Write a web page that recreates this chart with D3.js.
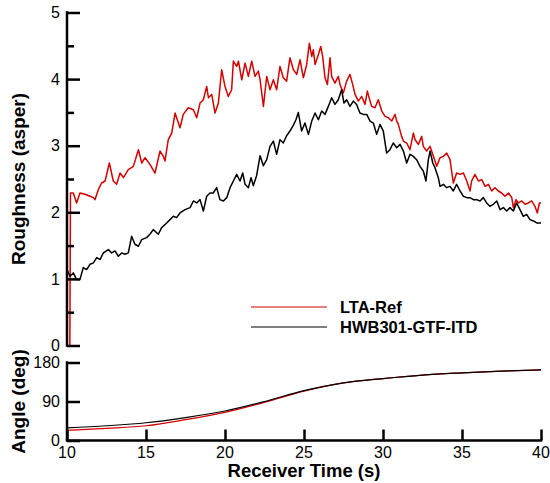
<!DOCTYPE html>
<html>
<head>
<meta charset="utf-8">
<script src="https://cdn.jsdelivr.net/npm/d3@7"></script>
<style>
  body { margin: 0; background: #fff; }
  svg { display: block; font-family: "Liberation Sans", Arial, sans-serif; }
</style>
</head>
<body>
<div id="graph"></div>
<script>
/*******************************************************************************
* Data
*******************************************************************************/
var seriesNames = ["LTA-Ref", "HWB301-GTF-ITD"];
var seriesColors = ["#d40000", "#000000"];

// roughness, LTA-Ref  [time (s), asper]
var roughRef = [
  [10.18,0.00],[10.22,2.29],[10.40,2.29],[10.61,2.14],[10.82,2.29],[11.14,2.27],[11.46,2.24],
  [11.67,2.22],[11.77,2.19],[11.98,2.34],[12.19,2.44],[12.41,2.47],[12.68,2.74],[12.93,2.47],
  [13.14,2.42],[13.36,2.59],[13.57,2.52],[13.88,2.64],[14.20,2.69],[14.52,2.94],[14.73,2.74],
  [14.94,2.82],[15.25,2.72],[15.57,2.59],[15.89,2.92],[16.10,2.84],[16.20,2.77],[16.41,3.09],
  [16.63,3.19],[16.84,3.49],[17.15,3.27],[17.36,3.47],[17.68,3.57],[18.00,3.54],[18.21,3.42],
  [18.42,3.64],[18.63,3.69],[18.84,3.89],[18.95,3.72],[19.16,3.77],[19.37,3.49],[19.58,3.64],
  [19.79,4.14],[20.00,3.89],[20.21,3.74],[20.42,3.84],[20.53,4.27],[20.74,4.19],[20.85,4.27],
  [21.06,3.99],[21.27,4.24],[21.48,4.04],[21.69,4.27],[21.90,4.04],[22.11,4.12],[22.22,3.99],
  [22.43,3.59],[22.64,4.04],[22.85,3.84],[23.06,3.99],[23.27,3.84],[23.48,4.19],[23.69,4.02],
  [23.90,3.97],[24.11,4.32],[24.33,4.14],[24.54,4.07],[24.75,4.29],[24.96,4.02],[25.17,4.22],
  [25.34,4.54],[25.49,4.34],[25.59,4.44],[25.70,4.22],[25.91,4.37],[26.06,4.49],[26.18,4.34],
  [26.33,4.02],[26.48,3.92],[26.65,4.32],[26.75,4.04],[26.96,3.94],[27.17,4.04],[27.28,3.92],
  [27.49,3.79],[27.70,3.97],[27.91,4.07],[28.08,3.92],[28.23,3.77],[28.44,3.67],[28.65,3.74],
  [28.86,3.62],[29.01,3.82],[29.18,3.67],[29.28,3.59],[29.49,3.57],[29.70,3.69],[29.92,3.52],
  [30.13,3.44],[30.34,3.42],[30.55,3.37],[30.76,3.47],[30.87,3.37],[30.97,3.32],[31.18,3.14],
  [31.29,3.07],[31.50,3.04],[31.71,2.94],[31.92,3.19],[32.03,3.09],[32.24,3.02],[32.45,3.14],
  [32.55,2.99],[32.76,2.92],[32.98,2.99],[33.19,2.84],[33.40,2.69],[33.61,2.82],[33.82,2.84],
  [34.03,2.89],[34.24,2.79],[34.45,2.44],[34.66,2.59],[34.88,2.57],[35.09,2.59],[35.30,2.47],
  [35.51,2.32],[35.61,2.47],[35.82,2.57],[36.04,2.47],[36.25,2.49],[36.46,2.39],[36.67,2.42],
  [36.88,2.32],[37.09,2.37],[37.30,2.32],[37.51,2.29],[37.72,2.24],[37.94,2.29],[38.15,2.22],
  [38.25,2.07],[38.42,2.19],[38.57,2.14],[38.78,2.17],[38.99,2.12],[39.20,2.14],[39.41,2.17],
  [39.62,2.09],[39.77,1.99],[39.90,2.14],[40.00,2.14]
];

// roughness, HWB301-GTF-ITD  [time (s), asper]
var roughItd = [
  [10.00,1.14],[10.19,1.04],[10.40,1.09],[10.61,0.99],[10.82,0.99],[11.03,1.17],[11.24,1.14],
  [11.46,1.22],[11.67,1.24],[11.88,1.32],[12.09,1.29],[12.30,1.39],[12.62,1.44],[12.83,1.39],
  [13.04,1.42],[13.25,1.34],[13.46,1.39],[13.67,1.37],[13.88,1.39],[14.09,1.64],[14.30,1.52],
  [14.52,1.49],[14.73,1.59],[15.04,1.62],[15.25,1.67],[15.46,1.74],[15.78,1.67],[15.99,1.77],
  [16.31,1.84],[16.52,1.89],[16.73,1.94],[16.94,1.92],[17.15,1.99],[17.47,2.04],[17.79,2.07],
  [18.00,2.17],[18.21,2.14],[18.42,2.19],[18.63,2.02],[18.84,2.24],[19.05,2.29],[19.26,2.29],
  [19.47,2.37],[19.68,2.19],[19.90,2.17],[20.11,2.22],[20.32,2.37],[20.53,2.47],[20.74,2.57],
  [20.95,2.47],[21.12,2.59],[21.27,2.42],[21.48,2.37],[21.65,2.52],[21.79,2.40],[22.00,2.55],
  [22.22,2.85],[22.43,2.70],[22.64,2.79],[22.85,2.99],[23.06,3.07],[23.27,2.87],[23.48,3.09],
  [23.69,3.04],[23.90,3.15],[24.11,3.22],[24.33,3.31],[24.49,3.39],[24.64,3.50],[24.85,3.22],
  [25.06,3.34],[25.28,3.17],[25.49,3.37],[25.70,3.49],[25.91,3.39],[26.12,3.52],[26.33,3.47],
  [26.54,3.59],[26.75,3.72],[26.96,3.62],[27.17,3.69],[27.38,3.84],[27.53,3.64],[27.70,3.69],
  [27.91,3.59],[28.12,3.67],[28.33,3.62],[28.54,3.49],[28.76,3.47],[28.97,3.47],[29.18,3.37],
  [29.39,3.34],[29.60,3.17],[29.81,3.32],[30.02,3.22],[30.23,2.89],[30.44,2.94],[30.65,3.04],
  [30.87,2.97],[31.08,3.02],[31.29,2.92],[31.50,2.74],[31.71,2.87],[31.92,2.84],[32.13,2.79],
  [32.34,2.69],[32.55,2.62],[32.72,2.47],[32.87,2.79],[32.98,2.92],[33.15,2.74],[33.29,2.67],
  [33.50,2.52],[33.61,2.39],[33.82,2.42],[34.03,2.37],[34.24,2.39],[34.45,2.32],[34.66,2.42],
  [34.88,2.32],[35.09,2.24],[35.30,2.22],[35.51,2.22],[35.72,2.19],[35.93,2.19],[36.14,2.17],
  [36.35,2.22],[36.56,2.14],[36.77,2.09],[36.98,2.12],[37.20,2.17],[37.41,2.04],[37.62,2.07],
  [37.83,2.02],[38.04,2.07],[38.25,2.02],[38.46,2.14],[38.67,2.04],[38.88,1.94],[39.09,1.97],
  [39.30,1.89],[39.52,1.87],[39.73,1.84],[40.00,1.84]
];

// angle (deg)
var angleTimes = [10, 12.5, 15, 17.5, 20, 22.5, 25, 27.5, 30, 32.5, 35, 37.5, 40];
var angleRef   = [23.5, 28, 34, 48, 65, 88, 114, 133, 143, 151, 156, 160, 163];
var angleItd   = [29, 34, 41, 53, 68, 90, 115, 133, 143, 151, 156, 160, 163];

var xTicks = [10, 15, 20, 25, 30, 35, 40];
var roughTicks = [0, 1, 2, 3, 4, 5];
var roughMinor = [0.5, 1.5, 2.5, 3.5, 4.5];
var angleTicks = [0, 90, 180];

/*******************************************************************************
* Svg Container + scales
*******************************************************************************/
var svg = d3.select("#graph").append("svg")
  .attr("width", 550)
  .attr("height", 483);

var x = d3.scaleLinear().domain([10, 40]).range([67, 541]);
var yR = d3.scaleLinear().domain([0, 5]).range([345.5, 12.5]);
var yA = d3.scaleLinear().domain([0, 180]).range([440.5, 362.5]);

var axisW = 2.5;

/*******************************************************************************
* Roughness panel
*******************************************************************************/
var roughLine = d3.line()
  .x(function(d){ return x(d[0]); })
  .y(function(d){ return yR(d[1]); });

[roughRef, roughItd].forEach(function(s, i){
  svg.append("path")
    .datum(s)
    .attr("d", roughLine)
    .attr("fill", "none")
    .attr("stroke", seriesColors[i])
    .attr("stroke-width", 1.5)
    .attr("stroke-linejoin", "round");
});

var gR = svg.append("g").attr("transform", "translate(" + x(10) + ",0)");
gR.call(d3.axisRight(yR).tickValues(roughTicks).tickSize(13).tickFormat(""));
gR.append("g").call(d3.axisRight(yR).tickValues(roughMinor).tickSize(7).tickFormat(""));
gR.selectAll(".domain").remove();
gR.append("line").attr("y1", yR(5) - 1.2).attr("y2", yR(0) + 1.2);
gR.selectAll("line").attr("stroke", "#000").attr("stroke-width", axisW);
gR.selectAll(".rlab").data(roughTicks).enter().append("text")
  .attr("class", "rlab")
  .attr("x", -7).attr("y", function(d){ return yR(d); })
  .attr("dy", "0.36em").attr("text-anchor", "end").attr("fill", "#000")
  .style("font-size", "16px").text(function(d){ return d; });

/*******************************************************************************
* Angle panel
*******************************************************************************/
var angleLine = d3.line()
  .x(function(d){ return x(d[0]); })
  .y(function(d){ return yA(d[1]); })
  .curve(d3.curveMonotoneX);

[angleRef, angleItd].forEach(function(vals, i){
  svg.append("path")
    .datum(angleTimes.map(function(t, j){ return [t, vals[j]]; }))
    .attr("d", angleLine)
    .attr("fill", "none")
    .attr("stroke", seriesColors[i])
    .attr("stroke-width", 1.2);
});

var gA = svg.append("g").attr("transform", "translate(" + x(10) + ",0)");
gA.call(d3.axisRight(yA).tickValues(angleTicks).tickSize(13).tickFormat(""));
gA.selectAll(".domain").remove();
gA.append("line").attr("y1", yA(180) - 1.2).attr("y2", yA(0));
gA.selectAll("line").attr("stroke", "#000").attr("stroke-width", axisW);
gA.selectAll(".alab").data(angleTicks).enter().append("text")
  .attr("class", "alab")
  .attr("x", -7).attr("y", function(d){ return yA(d); })
  .attr("dy", "0.36em").attr("text-anchor", "end").attr("fill", "#000")
  .style("font-size", "16px").text(function(d){ return d; });

var gX = svg.append("g").attr("transform", "translate(0," + yA(0) + ")");
gX.call(d3.axisTop(x).tickValues(xTicks).tickSize(11).tickFormat(""));
gX.selectAll(".domain").remove();
gX.append("line").attr("x1", x(10) - 1.2).attr("x2", x(40) + 1.2);
gX.selectAll("line").attr("stroke", "#000").attr("stroke-width", axisW);
gX.selectAll(".xlab").data(xTicks).enter().append("text")
  .attr("class", "xlab")
  .attr("x", function(d){ return x(d); }).attr("y", 17.5)
  .attr("text-anchor", "middle").attr("fill", "#000")
  .style("font-size", "16px").text(function(d){ return d; });

/*******************************************************************************
* Titles + legend
*******************************************************************************/
svg.append("text")
  .attr("x", 304).attr("y", 477).attr("text-anchor", "middle")
  .style("font-size", "18.5px").style("font-weight", "bold")
  .text("Receiver Time (s)");

svg.append("text")
  .attr("transform", "translate(25," + ((yR(5) + yR(0)) / 2) + ") rotate(-90)")
  .attr("text-anchor", "middle")
  .style("font-size", "19px").style("font-weight", "bold")
  .text("Roughness (asper)");

svg.append("text")
  .attr("transform", "translate(25," + ((yA(180) + yA(0)) / 2) + ") rotate(-90)")
  .attr("text-anchor", "middle")
  .style("font-size", "19px").style("font-weight", "bold")
  .text("Angle (deg)");

var legend = svg.append("g").attr("transform", "translate(251,307)");
seriesNames.forEach(function(name, i){
  legend.append("line")
    .attr("x1", 0).attr("x2", 76).attr("y1", i * 20).attr("y2", i * 20)
    .attr("stroke", seriesColors[i]).attr("stroke-width", 1.2);
  legend.append("text")
    .attr("x", 89).attr("y", i * 20 + 6)
    .style("font-size", "16.5px").style("font-weight", "bold")
    .text(name);
});
</script>
</body>
</html>
